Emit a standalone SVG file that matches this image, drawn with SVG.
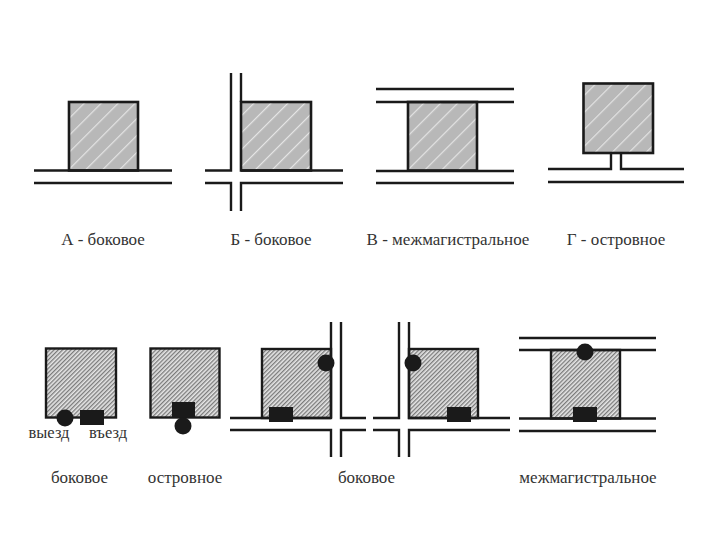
<svg xmlns="http://www.w3.org/2000/svg" width="720" height="540" viewBox="0 0 720 540">
<style>
text{font-family:"Liberation Serif","Times New Roman",serif;font-size:17px;fill:#333;text-anchor:middle}
.s{font-size:16.500px}
.road{stroke:#1a1a1a;stroke-width:2.400;fill:none}
.a{fill:url(#h1);stroke:#1a1a1a;stroke-width:2.600}
.b{fill:url(#h2);stroke:#1a1a1a;stroke-width:2.400}
.k{fill:#1a1a1a}
</style>
<defs>
<pattern id="h1" width="12" height="12" patternUnits="userSpaceOnUse" patternTransform="rotate(-45)">
<rect width="12" height="12" fill="#b8b8b8"/><rect width="12" height="1.200" fill="#e4e4e4"/>
</pattern>
<pattern id="h2" width="3" height="3" patternUnits="userSpaceOnUse" patternTransform="rotate(-45)">
<rect width="3" height="3" fill="#e6e6e6"/><rect width="3" height="1.300" fill="#7a7a7a"/>
</pattern>
</defs>
<rect width="720" height="540" fill="#fff"/>

<g id="a-bokovoe">
<rect class="a" x="69" y="102" width="69" height="68.500"/>
<path class="road" d="M34 170.500H172M34 183H172"/>
<text x="103" y="244.500">А - боковое</text>
</g>
<g id="b-bokovoe">
<rect class="a" x="241" y="102" width="70" height="68.500"/>
<path class="road" d="M231 73V170.500H205M241 73V102M205 183H231V211M241 211V183H343M241 170.500H343"/>
<text x="271" y="244.500">Б - боковое</text>
</g>
<g id="v-mezhmag">
<rect class="a" x="408" y="102" width="69" height="68.500"/>
<path class="road" d="M376 89H514M376 102H514M376 171H514M376 183H514"/>
<text x="448" y="244.500">В - межмагистральное</text>
</g>
<g id="g-ostrov">
<rect class="a" x="583.500" y="83.500" width="69.500" height="69.500"/>
<path class="road" d="M548 169H611V153M621 153V169H684M548 182H684"/>
<text x="616" y="244.500">Г - островное</text>
</g>

<g id="n1-bokovoe">
<rect class="b" x="46" y="348.500" width="70" height="69"/>
<circle class="k" cx="65" cy="418" r="8.500"/>
<rect class="k" x="80" y="410" width="24" height="15"/>
<text class="s" x="49" y="438">выезд</text>
<text class="s" x="108" y="438">въезд</text>
<text x="79.500" y="483">боковое</text>
</g>
<g id="n2-ostrov">
<rect class="b" x="150.500" y="348.500" width="69" height="69"/>
<rect class="k" x="172" y="402" width="23" height="15.500"/>
<circle class="k" cx="183" cy="426" r="8.500"/>
<text x="185" y="483">островное</text>
</g>
<g id="n3-bokovoe">
<rect class="b" x="262" y="349" width="69" height="69"/>
<path class="road" d="M331 322V418M341 322V418H366M230 418H331M230 430H331V457M341 457V430H366"/>
<rect class="k" x="269" y="407" width="24" height="15"/>
<circle class="k" cx="326" cy="363" r="8.500"/>
<text x="366.500" y="483">боковое</text>
</g>
<g id="n4-bokovoe">
<rect class="b" x="409" y="349" width="69" height="69"/>
<path class="road" d="M399 322V418H373M409 322V418H510M373 430H399V457M409 457V430H510"/>
<rect class="k" x="447" y="407" width="24" height="15"/>
<circle class="k" cx="413" cy="363" r="8.500"/>
</g>
<g id="n5-mezhmag">
<rect class="b" x="551" y="350" width="69" height="68.500"/>
<path class="road" d="M519 338H656M519 350H656M519 418.500H656M519 431H656"/>
<rect class="k" x="573" y="407" width="24" height="15"/>
<circle class="k" cx="585" cy="352" r="8.500"/>
<text x="588" y="483">межмагистральное</text>
</g>
</svg>
